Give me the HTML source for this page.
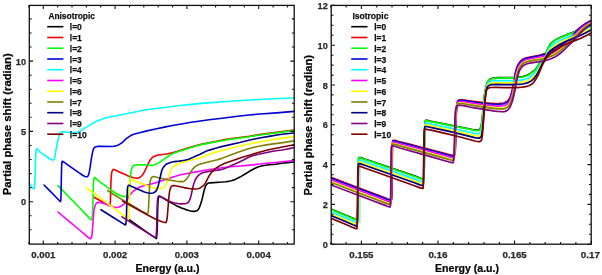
<!DOCTYPE html>
<html><head><meta charset="utf-8"><title>Partial phase shift</title>
<style>
html,body{margin:0;padding:0;background:#fff;}
svg{display:block;}
text{font-family:"Liberation Sans",sans-serif;font-weight:bold;}
.tk{font-size:9.3px;fill:#2a2a2a;stroke:#2a2a2a;stroke-width:0.25px;}
.lg{font-size:9.1px;fill:#111;stroke:#111;stroke-width:0.25px;}
.ax{font-size:10.4px;fill:#000;stroke:#000;stroke-width:0.2px;}
.c{fill:none;stroke-linejoin:round;stroke-linecap:round;}
</style></head><body>
<svg width="602" height="275" viewBox="0 0 602 275">
<rect width="602" height="275" fill="#fff"/>
<g class="c" stroke-width="1.6">
<polyline stroke="#000000" points="129.60,219.90 147.11,232.31 150.41,234.58 155.02,237.61 155.92,238.37 156.32,238.50 156.52,237.90 156.72,236.39 157.22,229.70 157.72,207.26 158.02,201.48 158.22,199.16 158.42,197.94 158.82,196.81 159.12,196.42 159.62,196.44 160.22,196.62 162.82,197.90 164.72,198.97 169.22,201.76 173.13,203.90 177.63,206.21 181.43,207.90 185.33,209.37 188.04,210.28 189.54,210.70 191.84,211.17 193.24,211.37 194.34,211.39 195.34,211.21 196.94,210.63 197.54,210.23 198.44,209.15 199.04,208.23 199.34,207.64 200.64,204.08 201.64,200.80 202.34,198.13 204.15,190.29 204.95,187.67 205.65,185.94 206.25,184.93 207.05,183.95 207.45,183.63 207.95,183.36 208.85,183.03 210.35,182.84 222.26,182.04 225.86,181.70 227.96,181.38 230.26,180.95 231.76,180.59 233.26,180.14 234.36,179.74 235.66,179.15 238.57,177.73 241.07,176.40 244.27,174.55 249.87,171.07 254.08,168.75 256.18,167.75 257.78,167.07 259.58,166.44 261.28,165.96 263.98,165.43 267.28,164.97 275.19,164.18 281.99,163.20 284.89,162.85 289.70,162.36 294.00,162.00"/>
<polyline stroke="#ee0000" points="94.00,197.20 100.80,200.95 107.71,204.86 109.41,205.70 109.81,205.80 109.91,205.64 110.01,205.25 110.31,202.91 111.01,180.78 111.11,178.44 111.31,175.83 111.61,173.30 111.91,171.77 112.61,170.21 113.01,169.66 113.31,169.44 113.61,169.41 114.11,169.55 119.91,172.26 125.22,174.60 128.22,175.99 129.72,176.60 132.02,177.33 133.82,177.77 136.32,178.17 137.12,178.20 137.72,178.12 138.42,177.92 139.52,177.49 140.32,177.03 141.02,176.46 141.72,175.79 142.22,175.25 142.72,174.58 144.03,172.46 144.83,170.95 146.23,168.01 147.73,164.57 149.03,161.94 149.83,160.55 150.83,159.20 151.93,157.98 152.93,157.19 154.53,156.20 155.93,155.62 157.23,155.29 158.83,154.98 163.83,154.32 166.34,153.92 172.24,152.70 176.74,151.51 189.35,147.50 194.65,145.93 198.25,144.94 201.15,144.23 204.66,143.47 217.56,140.94 224.87,139.63 229.37,138.89 249.38,136.29 260.88,134.37 294.00,130.10"/>
<polyline stroke="#00ff00" points="58.00,185.60 80.01,208.19 85.21,213.62 89.01,217.87 89.91,218.72 91.01,219.63 91.31,219.82 91.61,219.90 91.81,219.56 92.11,218.13 92.41,215.87 92.51,214.60 92.91,204.49 93.21,189.51 93.52,181.51 93.62,180.39 93.92,178.65 94.12,177.91 94.32,177.54 94.52,177.51 94.92,177.72 100.22,182.17 105.12,185.69 110.12,189.38 114.32,192.26 118.43,194.77 119.33,195.25 120.13,195.58 122.63,196.23 124.03,196.40 127.63,196.48 127.83,196.40 128.13,196.13 128.63,195.35 128.83,194.92 129.03,193.86 129.63,187.66 130.43,176.54 130.83,172.61 131.13,170.85 131.73,168.65 132.13,167.73 132.63,166.81 133.03,166.24 133.33,165.93 133.93,165.54 134.53,165.25 135.33,165.02 136.83,164.91 144.94,164.70 146.14,164.80 148.74,165.27 150.84,165.46 152.24,165.49 153.44,165.25 155.84,164.35 158.84,162.72 161.64,160.89 169.15,155.51 171.15,154.39 173.55,153.29 177.05,151.96 188.86,148.15 196.96,145.78 199.76,145.06 202.76,144.37 216.67,141.61 224.67,140.17 229.47,139.38 249.38,136.79 258.48,135.24 261.89,134.73 294.00,130.60"/>
<polyline stroke="#0000d8" points="44.00,185.00 50.10,191.10 58.31,199.56 60.21,201.44 60.51,201.60 60.61,201.36 60.71,200.74 61.01,196.87 61.31,179.68 61.61,166.92 61.71,164.92 61.91,162.94 62.11,161.65 62.21,161.31 62.31,161.20 62.71,161.34 64.01,162.12 70.91,167.15 78.81,172.70 82.72,175.29 84.92,176.48 85.62,176.75 86.02,176.80 86.52,176.76 87.52,176.49 87.72,176.34 87.92,176.08 88.32,175.27 88.92,173.63 89.22,172.38 90.12,167.27 90.92,161.54 91.62,157.12 92.72,151.54 93.12,150.12 93.62,148.69 93.92,148.11 94.52,147.46 95.02,147.10 95.52,146.89 97.12,146.55 98.62,146.36 100.62,146.30 112.33,146.49 114.03,146.27 116.63,145.61 117.63,145.22 118.73,144.69 120.23,143.87 121.13,143.27 123.23,141.60 125.53,139.41 126.63,138.47 128.13,137.30 129.53,136.36 130.83,135.57 131.84,135.07 133.04,134.60 134.64,134.10 139.44,132.75 145.94,131.14 155.54,128.96 164.35,127.11 172.55,125.52 184.26,123.46 191.06,122.33 198.66,121.19 209.07,119.81 222.17,118.33 237.68,116.27 248.98,115.03 260.59,113.95 279.59,112.63 294.00,111.40"/>
<polyline stroke="#00ffff" points="29.60,183.50 30.50,185.19 31.50,186.75 32.20,187.68 33.20,188.70 33.60,188.96 33.80,189.00 33.90,188.94 34.10,188.52 34.30,187.73 34.60,185.97 34.80,182.83 35.20,171.74 35.50,160.66 35.80,153.61 36.00,150.97 36.31,149.27 36.51,148.68 36.61,148.60 36.71,148.62 37.01,148.81 39.71,151.53 41.31,152.87 43.11,154.19 48.21,157.72 51.22,159.55 51.82,159.85 52.42,160.00 53.52,160.00 53.72,159.90 54.02,159.51 54.32,158.92 54.52,158.45 54.72,157.72 56.32,148.02 57.02,144.27 57.82,140.63 59.12,135.65 59.52,134.44 60.22,132.94 60.42,132.67 60.82,132.33 61.62,131.86 62.02,131.80 63.23,131.85 68.93,132.43 70.93,132.53 75.13,132.60 75.94,132.52 76.84,132.33 78.74,131.73 81.24,130.37 85.14,127.91 90.25,124.85 93.25,122.96 94.65,122.17 96.45,121.36 99.95,120.02 103.16,118.65 104.56,118.13 106.16,117.70 108.16,117.25 114.86,116.03 135.28,111.94 141.88,110.57 144.59,110.07 147.79,109.57 164.60,107.42 178.11,105.81 193.72,104.10 204.33,103.14 234.45,100.97 254.57,99.70 273.08,98.79 294.00,98.00"/>
<polyline stroke="#ff00ff" points="58.00,212.00 70.41,222.34 79.41,230.00 86.11,235.59 88.11,237.38 88.81,237.89 89.81,238.47 90.21,238.64 90.61,238.70 90.91,238.47 91.31,237.63 91.81,235.94 92.01,234.64 92.71,226.53 93.72,212.63 93.92,210.61 94.12,209.33 94.72,206.83 95.32,205.17 95.82,204.03 96.32,203.28 97.02,202.75 97.52,202.49 98.02,202.40 100.02,202.50 100.92,202.62 102.02,202.87 106.22,204.20 112.92,206.68 115.52,207.40 116.22,207.50 117.03,207.46 117.93,207.29 119.23,206.93 120.53,206.37 122.43,205.22 123.63,204.31 124.73,203.26 125.73,201.95 127.13,199.79 128.93,196.50 129.63,195.36 130.93,193.65 132.73,191.69 133.73,190.82 135.03,189.88 139.33,187.31 140.84,186.69 142.94,186.04 153.04,183.53 155.14,182.96 166.05,179.28 174.85,176.45 178.65,175.34 182.15,174.51 193.16,172.41 206.96,170.00 216.47,168.50 224.27,167.44 230.67,166.74 240.18,165.98 250.08,165.09 260.09,163.99 279.79,162.02 294.00,160.50"/>
<polyline stroke="#ffff00" points="86.60,188.00 120.22,212.86 125.02,216.57 126.42,217.54 128.02,218.53 128.32,218.67 128.52,218.69 128.62,218.48 128.82,217.24 129.12,213.63 129.52,194.19 129.82,183.26 129.92,181.83 130.12,180.44 130.32,179.57 130.42,179.35 130.52,179.30 131.12,179.40 132.22,179.73 134.92,180.97 139.73,182.89 145.33,185.05 152.83,187.76 154.53,188.14 157.03,188.38 160.04,188.50 161.04,188.36 162.64,187.76 163.34,187.43 163.84,187.12 164.44,186.64 165.04,186.04 165.54,185.45 165.94,184.82 166.64,183.28 167.64,180.61 168.94,176.19 170.24,172.21 171.34,169.28 171.94,168.08 172.44,167.47 172.94,167.00 174.54,165.83 175.94,165.03 177.84,164.20 182.35,162.54 184.75,161.78 187.45,161.09 197.25,158.75 200.25,157.92 202.76,157.00 207.46,154.98 209.36,154.23 212.36,153.22 216.06,152.11 221.77,150.52 227.37,149.06 245.18,144.76 248.48,144.01 251.38,143.44 259.88,142.02 277.39,138.91 286.00,137.66 294.00,136.70"/>
<polyline stroke="#808000" points="107.70,190.80 115.00,195.20 123.81,200.69 135.61,207.56 141.12,210.86 143.32,212.08 146.12,213.47 146.72,213.67 147.12,213.68 147.32,213.56 147.52,213.34 147.92,212.57 148.22,211.71 148.32,210.91 148.52,207.78 149.52,186.96 150.02,182.42 150.42,180.28 151.12,178.20 151.62,177.37 152.42,176.81 153.12,176.60 154.63,176.75 157.73,177.54 164.43,179.09 169.03,179.99 176.54,181.29 178.04,181.49 179.34,181.59 183.04,181.60 183.34,181.55 184.14,181.14 185.64,179.88 186.34,179.17 187.14,178.19 188.54,176.14 191.75,170.38 192.45,169.41 193.35,168.37 194.85,166.89 195.85,166.10 197.45,165.22 199.55,164.36 201.65,163.66 205.05,162.72 217.36,159.72 220.36,158.89 223.26,157.87 229.87,155.25 239.37,151.81 247.58,149.10 250.28,148.32 254.08,147.33 259.78,146.04 266.49,144.84 271.39,144.10 282.89,142.59 294.00,140.90"/>
<polyline stroke="#000080" points="101.00,209.70 112.11,216.72 124.31,224.31 125.01,224.82 125.31,224.97 125.51,225.00 125.71,224.58 125.91,223.50 126.31,219.84 126.51,214.54 126.91,199.64 127.31,190.04 127.41,188.89 127.71,186.94 127.91,186.19 128.21,185.66 128.51,185.32 128.71,185.21 129.21,185.24 129.81,185.42 131.82,186.42 140.42,190.18 143.72,191.69 145.32,192.30 147.22,192.83 149.02,193.23 150.43,193.29 151.63,193.20 153.03,193.00 153.53,192.85 154.03,192.61 155.23,191.74 155.63,191.37 156.03,190.88 156.83,189.50 157.63,187.66 158.13,186.00 159.13,181.97 161.53,171.52 161.83,170.47 162.23,169.45 163.13,167.74 164.43,165.95 165.53,164.76 166.63,164.02 167.73,163.50 169.94,162.64 171.84,162.03 174.04,161.67 179.14,161.11 182.94,160.57 185.64,160.08 187.54,159.58 189.45,158.90 192.05,157.86 195.85,156.07 200.15,154.23 204.55,151.95 206.55,151.08 209.36,150.11 214.76,148.47 218.26,147.46 221.46,146.63 239.77,142.55 249.88,140.03 254.38,139.08 260.88,137.83 269.09,136.36 278.49,134.81 286.70,133.75 294.00,133.00"/>
<polyline stroke="#800080" points="122.00,216.80 129.90,221.94 138.61,227.44 150.02,234.41 153.42,236.58 155.22,237.65 155.72,237.80 155.92,237.24 156.12,235.86 156.62,229.65 157.12,207.16 157.42,201.45 157.62,199.16 157.82,197.92 158.22,196.63 158.42,196.22 158.62,196.02 158.92,196.01 159.42,196.10 160.42,196.50 163.42,198.00 167.33,200.24 169.13,201.15 171.23,201.93 173.63,202.66 175.33,203.07 177.83,203.55 180.23,203.87 181.93,203.89 184.04,203.78 185.24,203.67 186.14,203.44 187.54,202.78 188.24,202.21 188.74,201.62 189.24,200.90 189.84,199.64 190.44,197.85 191.04,195.74 192.94,186.98 193.44,184.99 194.44,181.87 194.94,180.63 195.54,179.37 196.64,177.49 197.94,175.90 198.64,175.21 199.45,174.54 200.45,173.83 201.35,173.29 202.15,172.95 203.45,172.56 208.35,171.50 210.65,171.10 215.35,170.49 219.16,169.91 221.66,169.41 223.26,168.94 225.76,167.99 238.97,162.23 242.47,160.57 247.27,157.99 249.37,156.97 251.88,155.98 254.38,155.19 259.68,153.94 272.89,151.28 275.89,150.76 281.99,149.95 284.89,149.48 289.30,148.60 294.00,147.50"/>
<polyline stroke="#800000" points="122.50,201.00 140.41,211.03 147.21,214.72 154.22,218.42 158.22,220.28 161.42,221.53 163.62,222.21 165.02,222.52 165.83,222.60 165.93,222.55 166.13,222.26 166.43,221.43 166.83,219.82 167.13,218.22 167.43,215.23 168.83,197.67 169.23,194.14 169.63,191.31 170.03,189.40 170.73,187.40 171.23,186.57 172.13,185.87 172.53,185.69 172.93,185.60 173.93,185.64 175.03,185.77 179.03,186.49 183.94,187.59 186.64,188.10 189.14,188.50 192.34,188.85 194.24,188.99 195.74,188.98 197.44,188.79 198.94,188.48 200.05,187.94 202.35,186.43 203.35,185.64 204.25,184.71 205.15,183.39 206.55,180.91 208.45,177.00 209.15,175.75 210.75,173.42 212.35,171.57 214.95,169.15 217.06,167.46 219.46,165.90 222.26,164.48 224.36,163.56 226.36,162.78 238.77,158.40 242.27,157.31 250.17,155.05 257.18,152.83 260.18,151.95 265.68,150.51 270.99,149.28 294.00,144.70"/>
</g>
<path d="M43.3,244.1v-3.6M43.3,5.4v3.6M115.1,244.1v-3.6M115.1,5.4v3.6M186.9,244.1v-3.6M186.9,5.4v3.6M258.7,244.1v-3.6M258.7,5.4v3.6M28.9,244.1v-2.2M28.9,5.4v2.2M57.7,244.1v-2.2M57.7,5.4v2.2M72.0,244.1v-2.2M72.0,5.4v2.2M86.4,244.1v-2.2M86.4,5.4v2.2M100.7,244.1v-2.2M100.7,5.4v2.2M129.5,244.1v-2.2M129.5,5.4v2.2M143.8,244.1v-2.2M143.8,5.4v2.2M158.2,244.1v-2.2M158.2,5.4v2.2M172.5,244.1v-2.2M172.5,5.4v2.2M201.3,244.1v-2.2M201.3,5.4v2.2M215.6,244.1v-2.2M215.6,5.4v2.2M230.0,244.1v-2.2M230.0,5.4v2.2M244.3,244.1v-2.2M244.3,5.4v2.2M273.1,244.1v-2.2M273.1,5.4v2.2M287.4,244.1v-2.2M287.4,5.4v2.2M29.3,201.7h3.8M294.2,201.7h-3.8M29.3,131.4h3.8M294.2,131.4h-3.8M29.3,61.1h3.8M294.2,61.1h-3.8M29.3,229.8h2.3M294.2,229.8h-2.3M29.3,215.8h2.3M294.2,215.8h-2.3M29.3,187.6h2.3M294.2,187.6h-2.3M29.3,173.6h2.3M294.2,173.6h-2.3M29.3,159.5h2.3M294.2,159.5h-2.3M29.3,145.5h2.3M294.2,145.5h-2.3M29.3,117.3h2.3M294.2,117.3h-2.3M29.3,103.3h2.3M294.2,103.3h-2.3M29.3,89.2h2.3M294.2,89.2h-2.3M29.3,75.2h2.3M294.2,75.2h-2.3M29.3,47.0h2.3M294.2,47.0h-2.3M29.3,33.0h2.3M294.2,33.0h-2.3M29.3,18.9h2.3M294.2,18.9h-2.3" stroke="#111" stroke-width="1.1" fill="none"/>
<rect x="29.3" y="5.4" width="264.9" height="238.7" fill="none" stroke="#111" stroke-width="1.3"/>
<clipPath id="rc"><rect x="331.2" y="5.4" width="260.00000000000006" height="238.79999999999998"/></clipPath>
<path d="M359.9,160V223" stroke="#a6e3cc" stroke-width="1.5" fill="none"/>
<g class="c" stroke-width="1.7" clip-path="url(#rc)">
<polyline stroke="#000000" points="331.00,208.96 352.51,218.06 356.01,219.57 357.11,220.17 357.61,220.29 357.71,217.83 357.91,204.21 358.31,164.10 358.41,161.09 358.61,158.93 358.81,157.75 358.91,157.52 359.01,157.48 360.11,157.59 361.31,157.88 364.51,159.01 371.62,161.30 415.13,176.08 419.13,177.76 420.33,178.20 421.43,178.49 422.44,178.63 423.24,178.62 423.84,178.43 423.94,177.62 424.04,175.66 424.24,169.41 424.54,144.26 424.84,125.98 424.94,123.61 425.04,122.81 425.34,121.08 425.64,120.32 425.74,120.27 426.24,120.29 427.34,120.45 429.94,121.06 470.05,129.02 474.26,130.02 475.46,130.18 476.66,130.18 478.46,130.08 478.96,129.90 479.36,129.58 479.86,128.99 480.46,128.07 480.66,127.64 481.16,125.86 481.76,122.67 482.06,120.25 483.36,105.88 484.16,98.05 484.66,94.18 485.46,89.67 486.46,85.54 487.26,83.01 487.66,82.16 488.26,81.14 488.76,80.45 489.26,79.90 489.66,79.57 490.46,79.07 491.76,78.49 493.36,78.11 495.36,77.82 497.56,77.72 508.27,77.59 514.57,77.44 517.37,77.27 520.57,76.91 522.97,76.47 525.37,75.84 526.78,75.31 528.38,74.51 531.08,72.86 533.18,71.29 534.28,70.32 535.38,69.25 536.08,68.49 536.88,67.48 538.08,65.74 540.38,62.16 545.68,53.38 546.68,51.46 548.88,46.60 549.78,44.92 550.28,44.19 551.08,43.27 551.98,42.38 552.89,41.59 554.19,40.62 555.69,39.63 556.99,38.89 558.39,38.18 561.79,36.68 565.49,35.27 570.39,33.25 573.89,31.99 575.39,31.37 577.49,30.34 585.80,26.04 591.00,23.45"/>
<polyline stroke="#ee0000" points="331.00,177.40 353.81,186.03 385.02,197.71 387.92,198.98 388.62,199.19 389.22,199.29 390.92,199.39 391.52,199.36 391.72,195.96 391.92,188.94 392.42,146.76 392.52,143.74 392.62,142.76 392.82,141.32 392.92,140.84 393.12,140.34 393.32,140.30 394.22,140.36 395.82,140.65 399.63,141.71 406.53,143.37 416.83,145.97 441.64,152.50 445.44,153.52 450.35,154.96 452.95,155.45 453.65,155.50 453.85,155.43 454.25,154.97 454.65,154.07 455.05,152.67 455.25,151.62 455.55,143.96 456.25,116.19 456.45,111.20 456.75,107.13 457.05,104.44 457.55,101.79 457.75,101.07 457.95,100.65 458.85,100.13 459.75,99.86 460.55,99.80 462.35,99.87 464.65,100.12 469.15,100.79 477.76,101.93 484.86,102.75 489.36,103.16 495.86,103.49 497.56,103.49 499.26,103.42 503.17,102.97 503.97,102.78 504.77,102.50 506.47,101.63 507.57,100.86 508.07,100.37 508.67,99.64 509.27,98.77 509.97,97.56 510.57,96.13 511.47,93.07 512.47,88.96 513.87,81.61 515.17,73.56 515.57,71.82 516.17,69.61 517.07,66.88 517.97,64.85 518.67,63.65 519.37,62.60 520.07,61.71 520.87,60.85 521.87,60.01 523.17,59.11 524.27,58.50 525.37,58.04 527.48,57.49 538.98,55.22 541.08,54.73 543.18,54.16 546.78,53.02 549.48,52.02 551.78,50.97 554.39,49.57 557.29,47.82 559.39,46.41 561.99,44.48 564.69,42.29 566.69,40.50 569.19,38.13 575.59,31.60 578.70,28.69 580.80,26.90 583.30,25.02 585.60,23.48 588.40,21.87 591.00,20.60"/>
<polyline stroke="#00ff00" points="331.00,209.30 352.61,218.44 356.01,219.90 357.11,220.49 357.51,220.60 357.61,220.56 357.81,211.32 358.31,163.36 358.51,160.02 358.71,158.45 358.91,157.82 360.01,157.89 361.31,158.21 364.51,159.34 371.52,161.60 415.13,176.45 419.13,178.12 420.33,178.56 421.33,178.83 422.34,178.98 423.14,178.98 423.74,178.83 423.84,178.69 423.94,177.51 424.24,168.26 424.54,142.61 424.84,125.27 424.94,123.69 425.14,122.27 425.34,121.29 425.44,120.96 425.64,120.62 426.34,120.63 427.34,120.79 429.84,121.37 470.05,129.41 474.26,130.43 475.46,130.58 476.56,130.60 478.56,130.49 478.96,130.35 479.36,130.05 479.76,129.61 480.26,128.90 480.66,128.17 481.16,126.44 481.76,123.26 482.16,119.89 483.36,106.47 484.16,98.55 484.66,94.60 485.46,89.99 486.36,86.16 487.16,83.49 487.46,82.78 488.06,81.70 488.66,80.83 489.16,80.26 489.56,79.93 490.26,79.48 491.66,78.83 493.16,78.47 495.26,78.17 497.16,78.09 507.97,77.97 514.57,77.82 517.37,77.65 520.67,77.28 523.07,76.84 525.47,76.21 526.88,75.68 528.48,74.88 531.08,73.29 533.08,71.79 534.18,70.82 535.28,69.74 536.08,68.87 536.78,67.99 537.98,66.25 540.18,62.80 545.58,53.76 546.58,51.87 548.78,47.05 549.68,45.37 550.18,44.64 550.98,43.73 551.88,42.83 552.79,42.05 553.99,41.14 555.59,40.08 556.89,39.33 558.49,38.52 561.39,37.22 565.39,35.64 569.69,33.86 573.99,32.28 575.49,31.65 591.00,23.80"/>
<polyline stroke="#0000d8" points="331.00,178.10 355.21,187.27 385.02,198.42 387.82,199.64 389.02,199.96 391.32,200.10 391.42,199.94 391.52,198.59 391.82,188.58 392.32,146.14 392.42,144.02 392.62,142.32 392.82,141.27 393.02,140.84 394.22,140.90 395.72,141.18 399.63,142.29 406.73,144.03 417.23,146.70 440.84,152.96 445.44,154.21 450.25,155.61 452.85,156.13 453.55,156.19 453.75,156.12 454.15,155.66 454.55,154.71 455.05,152.79 455.15,151.89 455.45,143.50 456.25,112.90 456.55,108.42 456.85,105.43 457.35,102.66 457.65,101.58 457.85,101.17 458.65,100.70 459.65,100.39 460.55,100.32 462.35,100.40 464.45,100.63 469.25,101.37 477.36,102.47 484.36,103.32 489.26,103.80 496.06,104.24 497.76,104.25 499.46,104.18 503.27,103.78 504.07,103.58 504.87,103.30 506.57,102.43 507.17,102.05 507.67,101.63 508.67,100.50 509.27,99.63 509.97,98.44 510.57,97.03 511.57,93.70 512.57,89.65 513.97,82.39 515.27,74.44 515.67,72.65 516.37,70.05 517.27,67.31 518.07,65.48 518.77,64.25 519.47,63.19 520.17,62.28 520.97,61.42 522.07,60.49 523.27,59.66 524.37,59.05 525.47,58.60 527.68,58.03 539.48,55.71 543.68,54.64 547.18,53.55 549.78,52.58 552.09,51.52 554.69,50.11 557.29,48.54 559.39,47.12 561.99,45.16 564.69,42.95 569.19,38.77 574.49,33.33 577.19,30.70 579.40,28.65 581.20,27.14 583.60,25.30 585.80,23.82 588.50,22.24 591.00,21.01"/>
<polyline stroke="#00ffff" points="331.00,211.79 355.91,222.28 356.81,222.71 357.31,222.84 357.41,222.71 357.61,217.49 357.71,211.86 358.21,164.54 358.51,161.22 358.61,160.63 358.71,160.27 358.81,160.13 359.91,160.23 361.21,160.55 364.61,161.79 372.22,164.28 415.13,179.08 418.93,180.70 420.13,181.15 421.03,181.40 421.93,181.55 422.74,181.58 423.54,181.50 423.64,181.24 423.74,179.83 424.04,169.62 424.34,143.87 424.64,127.20 424.74,126.00 425.04,124.04 425.24,123.30 425.44,122.99 426.34,123.03 427.44,123.21 451.95,128.33 470.15,132.29 474.36,133.37 475.76,133.55 477.66,133.57 478.86,133.57 479.36,133.39 479.76,133.07 480.16,132.61 480.76,131.72 480.96,131.29 481.46,129.27 481.96,126.29 482.26,123.70 483.56,108.63 484.36,100.34 484.96,95.51 485.66,91.16 486.36,87.80 486.96,85.59 487.36,84.67 487.86,83.75 488.36,83.02 488.76,82.58 489.96,81.77 491.16,81.26 492.36,81.00 494.56,80.74 495.96,80.68 506.97,80.69 512.37,80.59 516.77,80.43 520.97,80.04 523.37,79.64 525.87,79.01 527.38,78.49 528.98,77.70 531.28,76.29 532.88,75.03 534.88,73.05 535.88,71.91 536.58,70.99 537.88,69.00 539.98,65.43 542.58,60.53 545.78,54.90 547.98,50.44 548.88,48.80 549.48,47.91 550.08,47.21 550.98,46.29 551.88,45.49 553.49,44.28 555.59,42.88 557.39,41.86 560.09,40.48 562.89,39.19 568.19,36.89 570.49,35.96 574.39,34.54 576.49,33.64 581.00,31.45 591.00,26.35"/>
<polyline stroke="#ff00ff" points="331.00,179.82 361.41,191.32 385.02,200.16 387.72,201.31 388.92,201.63 391.02,201.78 391.12,201.67 391.22,200.47 391.52,191.05 392.02,147.63 392.12,145.29 392.22,144.36 392.42,142.99 392.52,142.55 392.72,142.10 393.92,142.15 395.52,142.47 399.63,143.70 415.33,147.75 431.04,151.94 445.14,155.79 449.85,157.16 452.65,157.78 453.35,157.85 453.55,157.78 453.75,157.58 453.95,157.24 454.35,156.11 454.75,154.37 454.85,153.25 455.15,144.39 455.95,113.78 456.25,109.39 456.65,105.77 457.15,103.58 457.45,102.73 457.65,102.39 458.55,101.92 459.65,101.63 460.65,101.58 462.35,101.68 464.55,101.96 469.65,102.82 482.56,104.59 488.66,105.32 494.16,105.89 496.46,106.05 499.76,106.03 503.37,105.75 504.17,105.57 504.97,105.29 506.87,104.34 507.37,103.99 507.97,103.43 508.57,102.72 509.17,101.89 510.07,100.38 510.87,98.38 512.07,94.41 512.77,91.54 514.17,84.54 515.67,75.78 516.87,71.05 517.67,68.56 518.47,66.69 519.17,65.45 519.87,64.39 520.57,63.48 521.27,62.73 522.27,61.87 523.47,61.02 524.57,60.41 525.57,60.01 526.78,59.66 528.18,59.34 540.38,56.99 544.88,55.86 547.88,54.93 550.38,53.99 552.79,52.88 555.39,51.45 557.59,50.11 559.49,48.77 561.99,46.82 564.79,44.46 569.39,40.12 574.79,34.60 578.60,30.83 580.30,29.24 582.10,27.71 584.30,25.97 586.20,24.66 588.70,23.16 591.00,21.99"/>
<polyline stroke="#ffff00" points="331.00,213.80 345.41,219.82 352.71,222.95 356.61,224.52 357.21,224.64 357.31,223.78 357.41,221.77 357.61,213.54 358.11,166.30 358.41,163.07 358.51,162.49 358.61,162.14 358.71,162.00 359.81,162.10 361.11,162.42 364.61,163.72 372.92,166.48 415.13,181.20 419.93,183.21 421.53,183.60 423.34,183.65 423.44,183.56 423.54,182.42 423.84,173.29 424.14,147.58 424.44,129.82 424.54,128.18 424.74,126.67 424.94,125.63 425.04,125.28 425.24,124.92 426.24,124.95 427.54,125.17 449.35,129.81 461.75,132.61 470.35,134.63 474.56,135.72 475.96,135.93 477.96,136.03 479.06,136.05 479.56,135.89 480.26,135.29 481.06,134.14 481.36,133.20 481.66,131.71 482.26,127.61 484.26,104.36 484.76,99.48 485.36,94.71 486.06,90.45 486.66,87.67 486.96,86.83 487.46,85.77 487.96,84.96 488.36,84.51 489.46,83.76 490.66,83.24 491.46,83.06 493.76,82.82 495.66,82.75 505.57,82.85 511.47,82.79 516.77,82.63 521.27,82.25 523.57,81.89 526.08,81.30 527.78,80.74 529.38,79.98 531.48,78.68 532.88,77.53 534.68,75.63 536.38,73.48 537.58,71.57 539.38,68.35 542.38,62.29 545.68,56.29 547.98,51.96 548.58,51.00 549.18,50.21 550.18,49.15 551.28,48.16 553.69,46.36 555.59,45.11 558.69,43.33 561.49,41.87 564.59,40.39 567.69,39.03 570.29,37.98 574.79,36.31 577.79,35.02 581.90,33.07 591.00,28.40"/>
<polyline stroke="#ffff00" points="331.00,181.63 365.71,194.77 385.12,202.03 387.62,203.08 388.82,203.40 390.72,203.57 390.82,203.40 390.92,202.14 391.22,192.52 391.72,148.36 391.82,146.46 392.02,144.82 392.22,143.83 392.42,143.42 393.72,143.50 395.22,143.82 399.73,145.23 427.34,152.62 445.14,157.56 449.55,158.84 452.45,159.54 453.25,159.60 453.45,159.43 453.65,159.09 454.05,157.87 454.45,155.87 454.55,154.26 455.05,137.44 455.55,116.53 455.85,111.46 456.05,109.12 456.35,106.82 456.95,104.61 457.25,103.94 457.45,103.67 458.45,103.21 459.55,102.95 460.75,102.92 462.45,103.04 464.55,103.35 469.55,104.28 478.46,105.59 494.06,107.70 496.76,107.97 499.86,107.99 503.47,107.86 504.17,107.72 504.97,107.46 506.87,106.57 507.47,106.13 508.07,105.54 508.77,104.69 509.47,103.69 510.27,102.26 511.17,99.95 512.27,96.45 512.97,93.64 514.37,86.89 516.07,77.33 517.47,71.83 518.27,69.37 518.97,67.82 519.57,66.76 520.27,65.69 520.87,64.90 521.57,64.14 522.67,63.19 523.77,62.41 524.77,61.86 525.87,61.43 527.68,60.94 531.18,60.23 541.18,58.39 543.68,57.83 546.08,57.20 548.78,56.36 551.08,55.47 553.49,54.34 555.99,52.95 557.89,51.76 559.69,50.45 562.09,48.49 564.99,45.98 569.89,41.26 579.50,31.47 583.10,28.20 585.00,26.66 586.80,25.41 589.00,24.07 591.00,23.04"/>
<polyline stroke="#808000" points="331.00,182.43 366.71,195.96 385.12,202.85 387.52,203.85 388.72,204.18 390.62,204.37 390.72,203.86 390.82,202.23 391.02,196.58 391.62,147.71 391.92,145.17 392.22,144.08 392.32,144.00 393.32,144.06 395.12,144.42 399.73,145.89 428.14,153.59 449.45,159.60 452.35,160.31 453.15,160.38 453.35,160.21 453.55,159.84 453.85,158.92 454.25,157.01 454.35,155.99 454.55,150.81 454.95,136.17 455.35,118.66 455.45,115.92 455.75,111.38 455.95,109.20 456.25,107.15 456.85,105.12 457.15,104.50 457.35,104.25 458.35,103.80 459.55,103.53 460.85,103.51 462.45,103.64 464.55,103.96 469.45,104.91 475.96,105.90 494.36,108.54 496.86,108.81 498.96,108.87 503.47,108.80 504.17,108.67 504.97,108.43 506.87,107.56 507.47,107.12 508.17,106.42 508.87,105.56 509.67,104.40 510.47,102.84 511.37,100.48 512.37,97.32 513.17,94.08 514.47,87.88 516.17,78.40 516.87,75.41 517.67,72.39 518.47,69.91 519.17,68.37 520.37,66.37 520.97,65.58 521.67,64.80 522.77,63.83 523.87,63.05 524.87,62.49 525.97,62.07 527.78,61.58 531.28,60.86 541.78,58.97 544.18,58.44 546.48,57.84 549.08,57.03 551.38,56.14 553.79,55.00 556.29,53.60 557.99,52.52 559.79,51.18 562.19,49.18 565.19,46.54 570.49,41.39 579.80,31.83 583.40,28.51 585.20,27.05 587.00,25.79 589.10,24.49 591.00,23.50"/>
<polyline stroke="#000080" points="331.00,215.46 345.41,221.46 352.91,224.69 356.61,226.08 357.01,226.15 357.11,225.98 357.31,223.12 357.51,216.20 358.01,168.36 358.11,166.61 358.31,164.72 358.41,164.12 358.61,163.56 359.91,163.69 361.41,164.11 364.51,165.29 373.22,168.22 415.13,182.95 419.83,184.85 421.53,185.29 423.24,185.44 423.34,184.96 423.44,183.28 423.64,177.43 424.24,133.55 424.34,130.37 424.44,129.42 424.74,127.47 425.04,126.56 425.14,126.49 425.84,126.52 427.54,126.77 433.84,128.06 448.05,131.19 460.55,134.11 474.66,137.67 476.16,137.91 478.46,138.09 479.36,138.09 479.86,137.89 480.56,137.25 481.26,136.23 481.56,135.18 481.86,133.51 482.46,128.85 484.36,105.85 484.96,99.71 485.46,95.37 486.06,91.30 486.46,89.23 486.76,88.32 487.16,87.40 487.56,86.68 487.96,86.17 489.06,85.40 490.16,84.90 490.96,84.71 492.86,84.55 495.76,84.47 504.97,84.64 510.87,84.60 516.77,84.44 521.57,84.07 523.87,83.73 526.38,83.15 528.08,82.62 529.78,81.82 531.68,80.64 532.88,79.62 534.48,77.85 536.18,75.61 537.28,73.81 538.68,71.22 539.68,69.25 541.68,64.85 542.68,62.83 544.28,59.80 546.98,54.96 547.88,53.50 548.58,52.54 549.58,51.46 550.68,50.46 553.39,48.39 555.59,46.92 559.19,44.78 562.49,43.02 564.99,41.82 567.79,40.60 570.19,39.63 575.09,37.80 579.30,36.00 583.00,34.23 591.00,30.10"/>
<polyline stroke="#800080" points="331.00,184.95 368.21,199.08 385.12,205.39 387.32,206.29 388.52,206.64 389.62,206.81 390.22,206.82 390.42,204.23 390.62,198.39 391.12,152.19 391.22,149.11 391.32,148.18 391.52,146.81 391.62,146.36 391.82,145.89 392.12,145.85 393.02,145.93 394.72,146.29 399.83,148.00 429.74,156.38 449.25,161.99 452.15,162.77 452.85,162.84 452.95,162.77 453.15,162.41 453.55,160.86 453.85,158.88 453.95,157.00 454.45,139.60 454.85,121.68 454.95,118.48 455.25,113.57 455.55,110.35 455.75,109.07 456.35,107.17 456.65,106.55 456.95,106.13 457.15,105.98 457.95,105.67 459.25,105.39 460.55,105.36 462.25,105.50 464.25,105.84 469.95,107.04 494.86,111.05 498.26,111.49 501.57,111.71 503.47,111.73 504.27,111.60 505.07,111.39 506.87,110.66 507.47,110.23 508.17,109.54 508.97,108.57 509.77,107.44 510.77,105.46 511.97,102.32 512.77,99.78 513.67,96.11 514.87,90.55 516.77,80.36 517.77,76.14 518.47,73.49 519.17,71.37 519.97,69.73 521.07,67.97 522.17,66.66 523.27,65.69 524.37,64.91 525.27,64.44 526.48,64.01 528.28,63.54 531.38,62.89 542.58,61.04 544.88,60.58 547.18,60.01 549.78,59.22 552.09,58.33 554.49,57.18 556.89,55.82 558.39,54.81 559.99,53.54 563.89,50.09 565.59,48.50 572.79,41.35 576.09,37.93 580.20,33.46 584.10,29.65 585.60,28.38 587.50,27.01 589.30,25.86 591.00,24.95"/>
<polyline stroke="#800000" points="331.00,218.30 345.51,224.31 352.21,227.26 354.71,228.17 356.21,228.61 356.81,228.70 356.91,228.34 357.01,227.42 357.31,221.70 357.81,174.31 357.91,169.87 358.21,167.06 358.31,166.56 358.41,166.28 358.51,166.20 359.81,166.34 361.21,166.74 364.61,168.07 374.52,171.46 399.83,180.54 415.13,185.95 419.53,187.65 421.23,188.17 422.94,188.50 423.04,188.41 423.14,187.29 423.44,178.32 423.74,152.55 424.04,134.38 424.14,132.66 424.34,131.07 424.54,129.97 424.64,129.61 424.84,129.22 425.64,129.23 426.84,129.38 432.14,130.42 448.35,134.11 460.05,137.01 474.96,141.02 476.36,141.28 478.66,141.57 479.66,141.59 480.16,141.42 480.86,140.85 481.56,139.89 481.86,138.70 482.16,136.74 482.66,132.39 484.66,106.71 485.26,99.50 485.76,94.55 486.06,92.18 486.26,91.30 486.76,89.90 487.06,89.33 487.36,88.93 488.16,88.33 488.96,87.89 489.76,87.61 490.46,87.50 495.66,87.40 504.37,87.68 509.47,87.68 516.67,87.55 521.97,87.20 524.27,86.89 526.78,86.34 528.78,85.74 530.38,85.01 532.08,83.94 532.98,83.13 534.28,81.55 535.98,79.07 537.18,76.93 538.78,73.64 541.68,66.76 543.18,63.60 544.38,61.29 545.88,58.83 547.18,56.98 548.38,55.59 549.78,54.28 552.79,51.90 555.59,49.92 559.49,47.45 562.69,45.66 565.29,44.41 568.59,43.00 575.49,40.38 580.80,38.20 586.00,35.65 591.00,33.00"/>
</g>
<path d="M361.4,244.2v-3.6M361.4,5.4v3.6M438.0,244.2v-3.6M438.0,5.4v3.6M514.6,244.2v-3.6M514.6,5.4v3.6M591.2,244.2v-3.6M591.2,5.4v3.6M330.8,244.2v-2.2M330.8,5.4v2.2M346.1,244.2v-2.2M346.1,5.4v2.2M376.7,244.2v-2.2M376.7,5.4v2.2M392.0,244.2v-2.2M392.0,5.4v2.2M407.4,244.2v-2.2M407.4,5.4v2.2M422.7,244.2v-2.2M422.7,5.4v2.2M453.3,244.2v-2.2M453.3,5.4v2.2M468.6,244.2v-2.2M468.6,5.4v2.2M484.0,244.2v-2.2M484.0,5.4v2.2M499.3,244.2v-2.2M499.3,5.4v2.2M529.9,244.2v-2.2M529.9,5.4v2.2M545.2,244.2v-2.2M545.2,5.4v2.2M560.6,244.2v-2.2M560.6,5.4v2.2M575.9,244.2v-2.2M575.9,5.4v2.2M331.2,244.2h3.8M591.2,244.2h-3.8M331.2,204.4h3.8M591.2,204.4h-3.8M331.2,164.6h3.8M591.2,164.6h-3.8M331.2,124.8h3.8M591.2,124.8h-3.8M331.2,85.0h3.8M591.2,85.0h-3.8M331.2,45.2h3.8M591.2,45.2h-3.8M331.2,5.4h3.8M591.2,5.4h-3.8M331.2,234.2h2.3M591.2,234.2h-2.3M331.2,224.3h2.3M591.2,224.3h-2.3M331.2,214.3h2.3M591.2,214.3h-2.3M331.2,214.3h2.3M591.2,214.3h-2.3M331.2,194.4h2.3M591.2,194.4h-2.3M331.2,194.4h2.3M591.2,194.4h-2.3M331.2,184.5h2.3M591.2,184.5h-2.3M331.2,174.6h2.3M591.2,174.6h-2.3M331.2,174.6h2.3M591.2,174.6h-2.3M331.2,154.6h2.3M591.2,154.6h-2.3M331.2,154.6h2.3M591.2,154.6h-2.3M331.2,144.7h2.3M591.2,144.7h-2.3M331.2,134.8h2.3M591.2,134.8h-2.3M331.2,134.8h2.3M591.2,134.8h-2.3M331.2,114.8h2.3M591.2,114.8h-2.3M331.2,114.8h2.3M591.2,114.8h-2.3M331.2,104.9h2.3M591.2,104.9h-2.3M331.2,94.9h2.3M591.2,94.9h-2.3M331.2,94.9h2.3M591.2,94.9h-2.3M331.2,75.1h2.3M591.2,75.1h-2.3M331.2,75.1h2.3M591.2,75.1h-2.3M331.2,65.1h2.3M591.2,65.1h-2.3M331.2,55.2h2.3M591.2,55.2h-2.3M331.2,55.2h2.3M591.2,55.2h-2.3M331.2,35.2h2.3M591.2,35.2h-2.3M331.2,35.2h2.3M591.2,35.2h-2.3M331.2,25.3h2.3M591.2,25.3h-2.3M331.2,15.3h2.3M591.2,15.3h-2.3M331.2,15.3h2.3M591.2,15.3h-2.3M331.2,-4.5h2.3M591.2,-4.5h-2.3" stroke="#111" stroke-width="1.1" fill="none"/>
<rect x="331.2" y="5.4" width="260.00000000000006" height="238.79999999999998" fill="none" stroke="#111" stroke-width="1.3"/>
<text class="lg" x="48.4" y="19.1" textLength="46.5" lengthAdjust="spacingAndGlyphs">Anisotropic</text>
<line x1="47.2" y1="26.7" x2="63.4" y2="26.7" stroke="#000000" stroke-width="1.6"/>
<text class="lg" x="69.8" y="30.2" textLength="12" lengthAdjust="spacingAndGlyphs">l=0</text>
<line x1="47.2" y1="37.5" x2="63.4" y2="37.5" stroke="#ee0000" stroke-width="1.6"/>
<text class="lg" x="69.8" y="41.0" textLength="12" lengthAdjust="spacingAndGlyphs">l=1</text>
<line x1="47.2" y1="48.2" x2="63.4" y2="48.2" stroke="#00ff00" stroke-width="1.6"/>
<text class="lg" x="69.8" y="51.7" textLength="12" lengthAdjust="spacingAndGlyphs">l=2</text>
<line x1="47.2" y1="59.0" x2="63.4" y2="59.0" stroke="#0000d8" stroke-width="1.6"/>
<text class="lg" x="69.8" y="62.5" textLength="12" lengthAdjust="spacingAndGlyphs">l=3</text>
<line x1="47.2" y1="69.7" x2="63.4" y2="69.7" stroke="#00ffff" stroke-width="1.6"/>
<text class="lg" x="69.8" y="73.2" textLength="12" lengthAdjust="spacingAndGlyphs">l=4</text>
<line x1="47.2" y1="80.5" x2="63.4" y2="80.5" stroke="#ff00ff" stroke-width="1.6"/>
<text class="lg" x="69.8" y="84.0" textLength="12" lengthAdjust="spacingAndGlyphs">l=5</text>
<line x1="47.2" y1="91.2" x2="63.4" y2="91.2" stroke="#ffff00" stroke-width="1.6"/>
<text class="lg" x="69.8" y="94.7" textLength="12" lengthAdjust="spacingAndGlyphs">l=6</text>
<line x1="47.2" y1="102.0" x2="63.4" y2="102.0" stroke="#808000" stroke-width="1.6"/>
<text class="lg" x="69.8" y="105.5" textLength="12" lengthAdjust="spacingAndGlyphs">l=7</text>
<line x1="47.2" y1="112.7" x2="63.4" y2="112.7" stroke="#000080" stroke-width="1.6"/>
<text class="lg" x="69.8" y="116.2" textLength="12" lengthAdjust="spacingAndGlyphs">l=8</text>
<line x1="47.2" y1="123.5" x2="63.4" y2="123.5" stroke="#800080" stroke-width="1.6"/>
<text class="lg" x="69.8" y="127.0" textLength="12" lengthAdjust="spacingAndGlyphs">l=9</text>
<line x1="47.2" y1="134.2" x2="63.4" y2="134.2" stroke="#800000" stroke-width="1.6"/>
<text class="lg" x="69.8" y="137.7" textLength="17" lengthAdjust="spacingAndGlyphs">l=10</text>
<text class="lg" x="352.4" y="19.1" textLength="36" lengthAdjust="spacingAndGlyphs">Isotropic</text>
<line x1="351.2" y1="26.7" x2="367.5" y2="26.7" stroke="#000000" stroke-width="1.6"/>
<text class="lg" x="374.2" y="30.2" textLength="12" lengthAdjust="spacingAndGlyphs">l=0</text>
<line x1="351.2" y1="37.5" x2="367.5" y2="37.5" stroke="#ee0000" stroke-width="1.6"/>
<text class="lg" x="374.2" y="41.0" textLength="12" lengthAdjust="spacingAndGlyphs">l=1</text>
<line x1="351.2" y1="48.2" x2="367.5" y2="48.2" stroke="#00ff00" stroke-width="1.6"/>
<text class="lg" x="374.2" y="51.7" textLength="12" lengthAdjust="spacingAndGlyphs">l=2</text>
<line x1="351.2" y1="59.0" x2="367.5" y2="59.0" stroke="#0000d8" stroke-width="1.6"/>
<text class="lg" x="374.2" y="62.5" textLength="12" lengthAdjust="spacingAndGlyphs">l=3</text>
<line x1="351.2" y1="69.7" x2="367.5" y2="69.7" stroke="#00ffff" stroke-width="1.6"/>
<text class="lg" x="374.2" y="73.2" textLength="12" lengthAdjust="spacingAndGlyphs">l=4</text>
<line x1="351.2" y1="80.5" x2="367.5" y2="80.5" stroke="#ff00ff" stroke-width="1.6"/>
<text class="lg" x="374.2" y="84.0" textLength="12" lengthAdjust="spacingAndGlyphs">l=5</text>
<line x1="351.2" y1="91.2" x2="367.5" y2="91.2" stroke="#ffff00" stroke-width="1.6"/>
<text class="lg" x="374.2" y="94.7" textLength="12" lengthAdjust="spacingAndGlyphs">l=6</text>
<line x1="351.2" y1="102.0" x2="367.5" y2="102.0" stroke="#808000" stroke-width="1.6"/>
<text class="lg" x="374.2" y="105.5" textLength="12" lengthAdjust="spacingAndGlyphs">l=7</text>
<line x1="351.2" y1="112.7" x2="367.5" y2="112.7" stroke="#000080" stroke-width="1.6"/>
<text class="lg" x="374.2" y="116.2" textLength="12" lengthAdjust="spacingAndGlyphs">l=8</text>
<line x1="351.2" y1="123.5" x2="367.5" y2="123.5" stroke="#800080" stroke-width="1.6"/>
<text class="lg" x="374.2" y="127.0" textLength="12" lengthAdjust="spacingAndGlyphs">l=9</text>
<line x1="351.2" y1="134.2" x2="367.5" y2="134.2" stroke="#800000" stroke-width="1.6"/>
<text class="lg" x="374.2" y="137.7" textLength="17" lengthAdjust="spacingAndGlyphs">l=10</text>
<text class="tk" x="43.3" y="257.5" text-anchor="middle" textLength="24.2" lengthAdjust="spacingAndGlyphs">0.001</text>
<text class="tk" x="115.1" y="257.5" text-anchor="middle" textLength="24.2" lengthAdjust="spacingAndGlyphs">0.002</text>
<text class="tk" x="186.9" y="257.5" text-anchor="middle" textLength="24.2" lengthAdjust="spacingAndGlyphs">0.003</text>
<text class="tk" x="258.7" y="257.5" text-anchor="middle" textLength="24.2" lengthAdjust="spacingAndGlyphs">0.004</text>
<text class="tk" x="26.0" y="205.2" text-anchor="end" textLength="5.1" lengthAdjust="spacingAndGlyphs">0</text>
<text class="tk" x="26.0" y="134.9" text-anchor="end" textLength="5.1" lengthAdjust="spacingAndGlyphs">5</text>
<text class="tk" x="26.0" y="64.6" text-anchor="end" textLength="10.2" lengthAdjust="spacingAndGlyphs">10</text>
<text class="tk" x="361.4" y="257.5" text-anchor="middle" textLength="24.2" lengthAdjust="spacingAndGlyphs">0.155</text>
<text class="tk" x="438.0" y="257.5" text-anchor="middle" textLength="19.2" lengthAdjust="spacingAndGlyphs">0.16</text>
<text class="tk" x="514.6" y="257.5" text-anchor="middle" textLength="24.2" lengthAdjust="spacingAndGlyphs">0.165</text>
<text class="tk" x="600.0" y="257.5" text-anchor="end" textLength="19.2" lengthAdjust="spacingAndGlyphs">0.17</text>
<text class="tk" x="327.8" y="247.7" text-anchor="end" textLength="5.1" lengthAdjust="spacingAndGlyphs">0</text>
<text class="tk" x="327.8" y="207.9" text-anchor="end" textLength="5.1" lengthAdjust="spacingAndGlyphs">2</text>
<text class="tk" x="327.8" y="168.1" text-anchor="end" textLength="5.1" lengthAdjust="spacingAndGlyphs">4</text>
<text class="tk" x="327.8" y="128.3" text-anchor="end" textLength="5.1" lengthAdjust="spacingAndGlyphs">6</text>
<text class="tk" x="327.8" y="88.5" text-anchor="end" textLength="5.1" lengthAdjust="spacingAndGlyphs">8</text>
<text class="tk" x="327.8" y="48.7" text-anchor="end" textLength="10.2" lengthAdjust="spacingAndGlyphs">10</text>
<text class="tk" x="327.8" y="8.9" text-anchor="end" textLength="10.2" lengthAdjust="spacingAndGlyphs">12</text>
<text class="ax" x="167.5" y="271.5" text-anchor="middle" textLength="64" lengthAdjust="spacingAndGlyphs">Energy (a.u.)</text>
<text class="ax" x="467" y="271.5" text-anchor="middle" textLength="64" lengthAdjust="spacingAndGlyphs">Energy (a.u.)</text>
<text class="ax" transform="translate(10.5,124.3) rotate(-90)" text-anchor="middle" textLength="142" lengthAdjust="spacingAndGlyphs">Partial phase shift (radian)</text>
<text class="ax" transform="translate(312.3,125.2) rotate(-90)" text-anchor="middle" textLength="140.5" lengthAdjust="spacingAndGlyphs">Partial phase shift (radian)</text>
</svg></body></html>
